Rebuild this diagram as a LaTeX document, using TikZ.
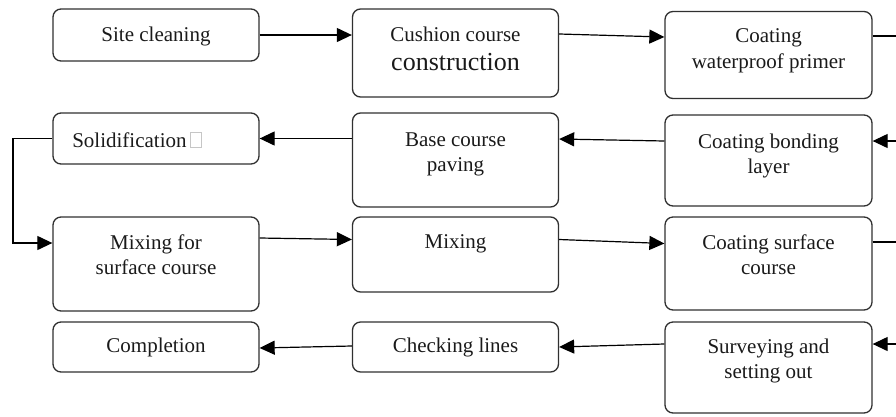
\documentclass[tikz,border=0pt]{standalone}
\usepackage{fontspec}
\setmainfont{Liberation Serif}
\usetikzlibrary{arrows.meta}
\definecolor{boxc}{HTML}{303030}
\definecolor{txtc}{HTML}{1A1A1A}
\newcommand\bx[4]{\parbox[c][#2pt][t]{#1pt}{\centering\rule{0pt}{#3pt}#4}}
\newcommand\missingglyph{{\color{gray!45}\setlength{\fboxrule}{0.8pt}\setlength{\fboxsep}{0pt}\fbox{\rule{0pt}{14pt}\hspace{10pt}}}}
\begin{document}
\begin{tikzpicture}[x=1pt,y=-1pt,
  box/.style={draw=boxc, line width=1.3pt, rounded corners=8pt, inner sep=0pt,
    text=txtc, font=\fontsize{21}{25.5}\selectfont},
  arr/.style={line width=1.2pt, -{Triangle[length=15pt,width=14pt]}},
  ln/.style={line width=1.2pt}]
\useasboundingbox (0,0) rectangle (896,416);
% row 1
\node[box] (site) at (156,35)   {\bx{206}{52}{32}{Site cleaning}};
\node[box] (cush) at (455.5,53) {\bx{206}{88}{32}{Cushion course\\[3.5pt]{\fontsize{26}{30}\selectfont construction}}};
\node[box] (prim) at (768.5,55) {\bx{207}{87}{31}{Coating\\waterproof primer}};
% row 2
\node[box] (soli) at (156,138.5)  {\bx{206}{51}{34}{Solidification\,\missingglyph\hspace*{38pt}}};
\node[box] (base) at (455.5,160)  {\bx{206}{94}{33}{Base course\\paving}};
\node[box] (bond) at (768.5,160.5){\bx{207}{91}{33}{Coating bonding\\layer}};
% row 3
\node[box] (mfs)  at (156,264)    {\bx{206}{94}{32}{Mixing for\\surface course}};
\node[box] (mix)  at (455.5,254.5){\bx{206}{75}{31}{Mixing}};
\node[box] (surf) at (768.5,263.5){\bx{207}{93}{32}{Coating surface\\course}};
% row 4
\node[box] (comp) at (156,347)    {\bx{206}{50}{30}{Completion}};
\node[box] (chk)  at (455.5,347)  {\bx{206}{50}{30}{Checking lines}};
\node[box] (surv) at (768.5,367.5){\bx{207}{91}{31}{Surveying and\\setting out}};
% free ends at the right border
\coordinate (e1) at (896,36);
\coordinate (e2) at (896,141);
\coordinate (e3) at (896,242);
\coordinate (e4) at (896,344);
\coordinate (c1) at (13,243);
% connectors
\draw[arr] (site.east) -- (cush.west |- site.east);
\draw[arr] ([yshift=19pt]cush.east) -- ([yshift=18pt]prim.west);
\draw[ln] (prim.east |- e1) -- (e1);
\draw[arr] (e2) -- (bond.east |- e2);
\draw[arr] (bond.west |- e2) -- ([yshift=21pt]base.east);
\draw[arr] (base.west |- soli.west) -- (soli.east);
\draw[arr] (soli.west) -| (c1) -- (mfs.west |- c1);
\draw[arr] ([yshift=26pt]mfs.east) -- ([yshift=15pt]mix.west);
\draw[arr] ([yshift=15pt]mix.east) -- ([yshift=20pt]surf.west);
\draw[ln] (surf.east |- e3) -- (e3);
\draw[arr] (e4) -- (surv.east |- e4);
\draw[arr] (surv.west |- e4) -- (chk.east);
\draw[arr] ([yshift=1pt]chk.west) -- ([yshift=-1pt]comp.east);
\end{tikzpicture}
\end{document}
